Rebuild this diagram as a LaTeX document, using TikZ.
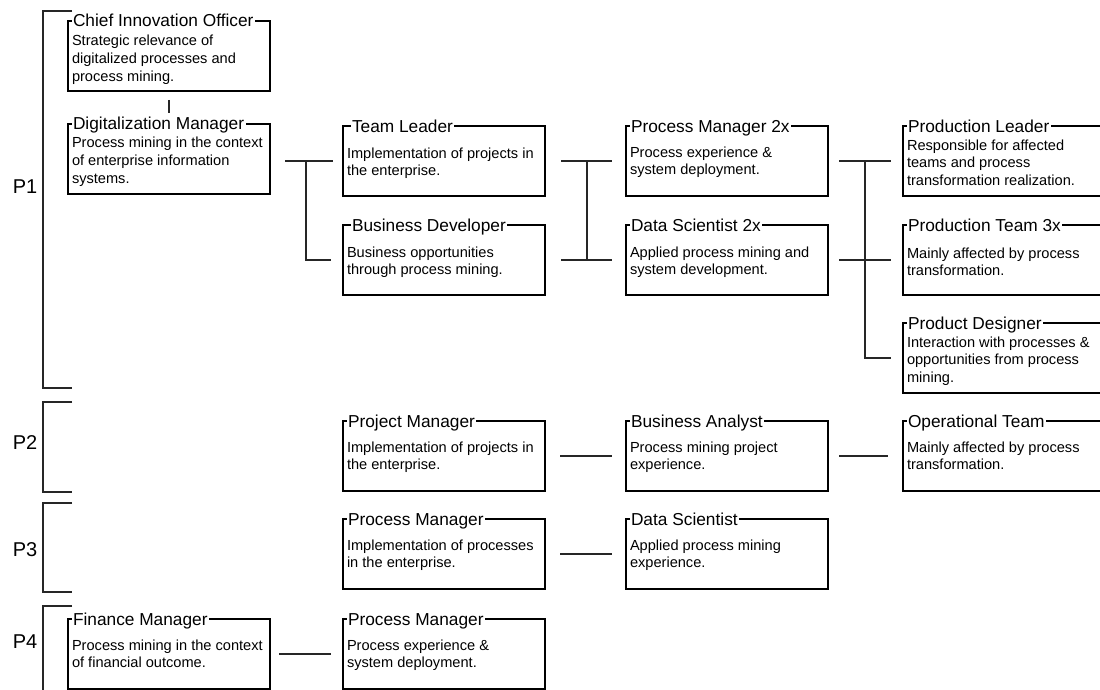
\documentclass[tikz,border=0pt]{standalone}
\usepackage{fontspec}
\setmainfont{Liberation Sans}
\usetikzlibrary{calc}

\tikzset{
  boxshape/.style={rectangle, draw=none, inner sep=0pt, outer sep=0pt,
    minimum width=#1, minimum height=70pt},
  boxleft/.style={line width=1.6pt, black},
  boxedge/.style={line width=2.7pt, black, line join=miter, line cap=rect},
  roletitle/.style={fill=white, inner xsep=1.5pt, inner ysep=1pt, outer sep=0pt,
    font=\fontsize{17.3pt}{20pt}\selectfont, anchor=base west},
  rolebody/.style={inner sep=0pt, outer sep=0pt, align=left, anchor=north west,
    font=\fontsize{14.6pt}{17.7pt}\selectfont},
  conn/.style={line width=1.1pt, black!85},
  bracket/.style={line width=1.1pt, black!85},
  plabel/.style={font=\fontsize{20pt}{24pt}\selectfont, inner sep=0pt}
}

% #1 name, #2 left x, #3 top y (downwards), #4 title, #5 body,
% #6 first baseline below top, #7 title indent, #8 box width
\newcommand\rolebox[8]{%
  \node[boxshape=#8, anchor=north west] (#1) at (#2,-#3) {};
  \draw[boxleft] (#1.north west) -- (#1.south west);
  \draw[boxedge] (#1.north west) -- (#1.north east) -- (#1.south east) -- (#1.south west);
  \node[roletitle] (#1-title) at ($(#1.north west)+(#7-1.5,-6)$) {#4};
  \node[rolebody] (#1-body) at ($(#1.north west)+(4,{12-#6})$) {\rule{0pt}{12pt}#5};
}

\begin{document}
\begin{tikzpicture}[x=1pt,y=1pt]
\useasboundingbox (0,0) rectangle (1100,-690);
\clip (0,0) rectangle (1100,-690);
\fill[white] (0,0) rectangle (1100,-690);

% phase brackets
\draw[bracket] (72,-11) -- (43,-11) -- (43,-388) -- (72,-388);
\draw[bracket] (72,-402) -- (43,-402) -- (43,-492) -- (72,-492);
\draw[bracket] (72,-503) -- (43,-503) -- (43,-592) -- (72,-592);
\draw[bracket] (72,-606) -- (43,-606) -- (43,-700);
\node[plabel] (p1) at (25,-187) {P1};
\node[plabel] (p2) at (25,-443) {P2};
\node[plabel] (p3) at (25,-550) {P3};
\node[plabel] (p4) at (25,-642) {P4};

% P1
\rolebox{cio}{68}{21}{Chief Innovation Officer}{Strategic relevance of\\digitalized processes and\\process mining.}{25}{5}{202}
\rolebox{dm}{68}{124}{Digitalization Manager}{Process mining in the context\\of enterprise information\\systems.}{24}{5}{202}
\rolebox{tl}{343}{126}{Team Leader}{Implementation of projects in\\the enterprise.}{32}{9}{202}
\rolebox{bd}{343}{225}{Business Developer}{Business opportunities\\through process mining.}{32}{9}{202}
\rolebox{pmb}{626}{126}{Process Manager 2x}{Process experience \&\\system deployment.}{31}{5}{202}
\rolebox{dsb}{626}{225}{Data Scientist 2x}{Applied process mining and\\system development.}{32}{5}{202}
\rolebox{pl}{903}{126}{Production Leader}{Responsible for affected\\teams and process\\transformation realization.}{24}{5}{220}
\rolebox{pt}{903}{225}{Production Team 3x}{Mainly affected by process\\transformation.}{33}{5}{220}
\rolebox{pd}{903}{323}{Product Designer}{Interaction with processes \&\\opportunities from process\\mining.}{24}{5}{220}

% P2
\rolebox{prj}{343}{421}{Project Manager}{Implementation of projects in\\the enterprise.}{31}{5}{202}
\rolebox{ba}{626}{421}{Business Analyst}{Process mining project\\experience.}{31}{5}{202}
\rolebox{ot}{903}{421}{Operational Team}{Mainly affected by process\\transformation.}{31}{5}{220}

% P3
\rolebox{pmc}{343}{519}{Process Manager}{Implementation of processes\\in the enterprise.}{31}{5}{202}
\rolebox{dsc}{626}{519}{Data Scientist}{Applied process mining\\experience.}{31}{5}{202}

% P4
\rolebox{fm}{68}{619}{Finance Manager}{Process mining in the context\\of financial outcome.}{31}{5}{202}
\rolebox{pmd}{343}{619}{Process Manager}{Process experience \&\\system deployment.}{31}{5}{202}

% connectors
\draw[conn] ($(cio.south)+(0,-9)$) -- ($(dm.north)+(0,11)$);

\draw[conn] ($(tl.west)+(-58,0)$) -- ($(tl.west)+(-10,0)$);
\draw[conn] ($(tl.west)+(-37,0)$) |- ($(bd.west)+(-12,0)$);

\draw[conn] ($(pmb.west)+(-65,0)$) -- ($(pmb.west)+(-14,0)$);
\draw[conn] ($(dsb.west)+(-65,0)$) -- ($(dsb.west)+(-14,0)$);
\draw[conn] ($(pmb.west)+(-39,0)$) -- ($(dsb.west)+(-39,0)$);

\draw[conn] ($(pl.west)+(-64,0)$) -- ($(pl.west)+(-12,0)$);
\draw[conn] ($(pt.west)+(-64,0)$) -- ($(pt.west)+(-12,0)$);
\draw[conn] ($(pl.west)+(-38,0)$) |- ($(pd.west)+(-12,0)$);

\draw[conn] ($(ba.west)+(-66,0)$) -- ($(ba.west)+(-14,0)$);
\draw[conn] ($(ot.west)+(-64,0)$) -- ($(ot.west)+(-15,0)$);

\draw[conn] ($(dsc.west)+(-66,0)$) -- ($(dsc.west)+(-14,0)$);

\draw[conn] ($(pmd.west)+(-64,0)$) -- ($(pmd.west)+(-12,0)$);
\end{tikzpicture}
\end{document}
